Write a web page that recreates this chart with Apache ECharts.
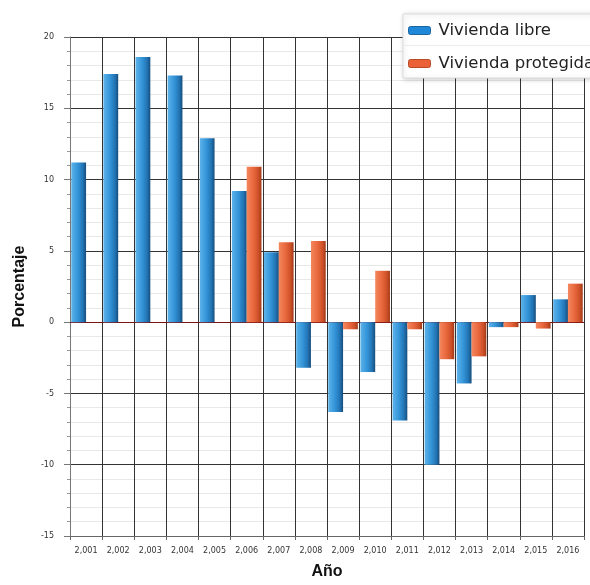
<!DOCTYPE html>
<html>
<head>
<meta charset="utf-8">
<script src="https://cdn.jsdelivr.net/npm/echarts@6/dist/echarts.min.js"></script>
<style>html,body{margin:0;padding:0;background:#fff}#c{width:590px;height:585px}</style>
</head>
<body>
<div id="c"></div>
<script>
var categories = ['2,001','2,002','2,003','2,004','2,005','2,006','2,007','2,008','2,009','2,010','2,011','2,012','2,013','2,014','2,015','2,016'];
var viviendaLibre = [11.2, 17.4, 18.6, 17.3, 12.9, 9.2, 4.9, -3.2, -6.3, -3.5, -6.9, -10.0, -4.3, -0.35, 1.9, 1.6];
var viviendaProtegida = [null, null, null, null, null, 10.9, 5.6, 5.7, -0.5, 3.6, -0.5, -2.6, -2.4, -0.35, -0.45, 2.7];
var seriesNames = ['Vivienda libre', 'Vivienda protegida'];
var yTicks = {min: -15, max: 20, interval: 5};

var chart = echarts.init(document.getElementById('c'), null, {renderer: 'canvas'});
function grad(c1, c2, c3, c4) {
  return new echarts.graphic.LinearGradient(0, 0, 1, 0, [
    {offset: 0, color: c1}, {offset: 0.45, color: c2}, {offset: 0.78, color: c3}, {offset: 1, color: c4}
  ]);
}
var option = {
  backgroundColor: '#fff',
  animation: false,
  textStyle: {fontFamily: 'DejaVu Sans'},
  grid: {left: 70, right: 6, top: 37, bottom: 44},
  legend: {
    orient: 'vertical',
    left: 403, top: 14,
    padding: [8, 40, 6, 5],
    itemWidth: 22, itemHeight: 8, itemGap: 16,
    backgroundColor: '#fff',
    borderColor: '#dcdcdc', borderWidth: 1,
    shadowBlur: 5, shadowColor: 'rgba(0,0,0,0.18)', shadowOffsetX: 1, shadowOffsetY: 1,
    textStyle: {fontFamily: 'DejaVu Sans', fontSize: 16.5, lineHeight: 16, color: '#222', padding: [0,0,0,3]},
    data: [
      {name: seriesNames[0], itemStyle: {color: '#2088d8', borderColor: '#1a64a0', borderWidth: 1}},
      {name: seriesNames[1], itemStyle: {color: '#ec6238', borderColor: '#b84a25', borderWidth: 1}}
    ]
  },
  graphic: [{
    type: 'line', z: 100,
    shape: {x1: 404, y1: 45.5, x2: 590, y2: 45.5},
    style: {stroke: '#ececec', lineWidth: 1}
  }],
  xAxis: {
    type: 'category',
    data: categories,
    name: 'Año',
    nameLocation: 'middle',
    nameGap: 28,
    nameTextStyle: {fontFamily: 'Liberation Sans', fontWeight: 'bold', fontSize: 16, color: '#111'},
    axisLine: {onZero: false, lineStyle: {color: '#666'}},
    axisTick: {show: true, length: 4, lineStyle: {color: '#666'}},
    axisLabel: {fontFamily: 'DejaVu Sans', fontSize: 8, color: '#333', margin: 11},
    splitLine: {show: true, lineStyle: {color: '#333', width: 1}}
  },
  yAxis: {
    type: 'value',
    min: yTicks.min, max: yTicks.max, interval: yTicks.interval,
    name: 'Porcentaje',
    nameLocation: 'middle',
    nameGap: 42,
    nameRotate: 90,
    nameTextStyle: {fontFamily: 'Liberation Sans', fontWeight: 'bold', fontSize: 16, color: '#111'},
    axisLine: {show: true, lineStyle: {color: '#777'}},
    axisTick: {show: true, length: 6, lineStyle: {color: '#777'}},
    minorTick: {show: true, splitNumber: 5, length: 3, lineStyle: {color: '#999'}},
    axisLabel: {fontFamily: 'DejaVu Sans', fontSize: 8, color: '#333', margin: 16},
    splitLine: {show: true, lineStyle: {color: '#333', width: 1}},
    minorSplitLine: {show: true, lineStyle: {color: '#e8e8e8', width: 1}}
  },
  series: [
    {
      name: seriesNames[0], type: 'bar', data: viviendaLibre,
      barGap: '0%', barCategoryGap: '8%',
      itemStyle: {color: grad('#5db3ea', '#3394d8', '#2274b4', '#174d7c')},
      markLine: {
        silent: true, symbol: 'none', label: {show: false},
        lineStyle: {color: '#7a1414', width: 1, type: 'solid'},
        data: [{yAxis: 0}], z: 1
      }
    },
    {
      name: seriesNames[1], type: 'bar', data: viviendaProtegida,
      barGap: '0%', barCategoryGap: '8%',
      itemStyle: {color: grad('#f4875e', '#e9683d', '#cf5129', '#a23a17')}
    }
  ]
};
chart.setOption(option);
</script>
</body>
</html>
